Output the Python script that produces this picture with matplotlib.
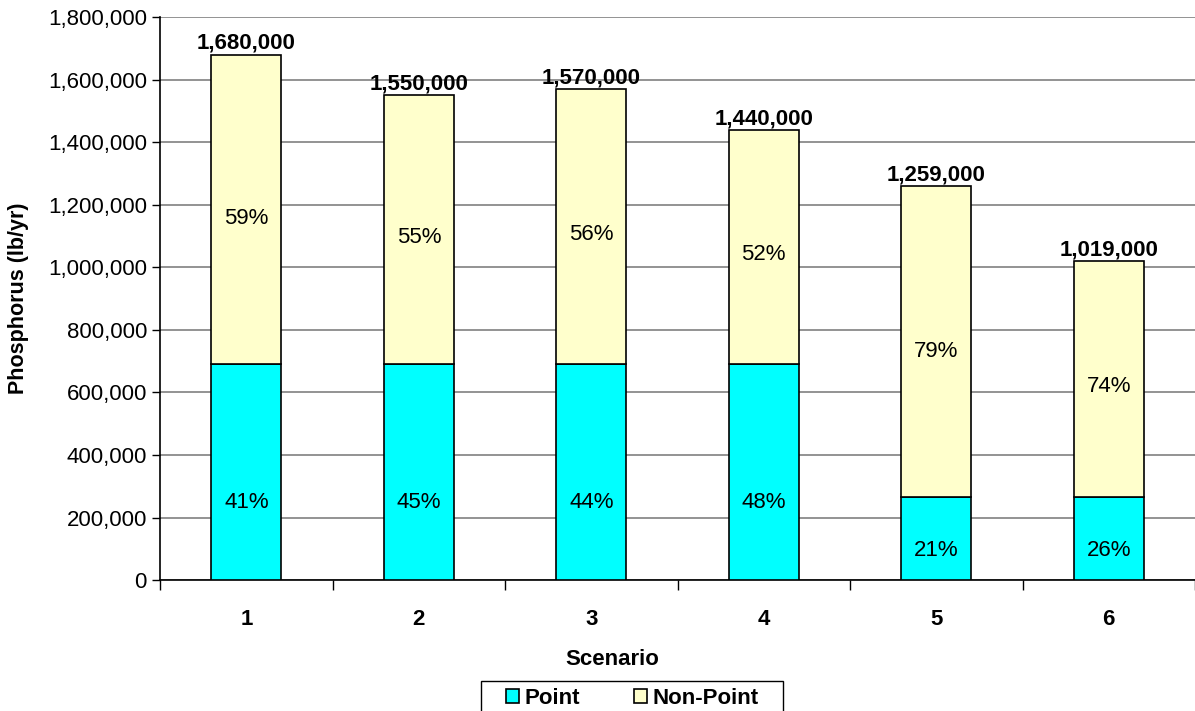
import matplotlib.pyplot as plt
from matplotlib.patches import Rectangle
import numpy as np

plt.rcParams['font.family'] = ['Liberation Sans', 'DejaVu Sans']

scenarios = ['1', '2', '3', '4', '5', '6']
totals = [1680000, 1550000, 1570000, 1440000, 1259000, 1019000]
point = [690000, 690000, 690000, 690000, 265000, 265000]
point_pct = [41, 45, 44, 48, 21, 26]
nonpoint_pct = [59, 55, 56, 52, 79, 74]

nonpoint = [t - p for t, p in zip(totals, point)]
x = np.arange(len(scenarios))

fig = plt.figure(figsize=(11.95, 7.11), dpi=100)
ax = fig.add_axes([0.134, 0.184, 0.866, 0.792])

w = 0.405
ax.bar(x, point, w, color='#00FFFF', edgecolor='black', linewidth=1.2,
       label='Point', zorder=3)
ax.bar(x, nonpoint, w, bottom=point, color='#FFFFCC', edgecolor='black',
       linewidth=1.2, label='Non-Point', zorder=3)

for i in x:
    ax.text(i, point[i] * 0.36, f'{point_pct[i]}%', ha='center', va='center',
            fontsize=16, zorder=4)
    ax.text(i, point[i] + nonpoint[i] * 0.47, f'{nonpoint_pct[i]}%',
            ha='center', va='center', fontsize=16, zorder=4)
    ax.text(i, totals[i] + 2000, f'{totals[i]:,}', ha='center', va='bottom',
            fontsize=16, fontweight='bold', zorder=4)

ax.set_xlim(-0.5, len(scenarios) - 0.5)
ax.set_ylim(0, 1800000)
ax.set_yticks(np.arange(0, 1800001, 200000))
ax.yaxis.set_major_formatter(plt.FuncFormatter(lambda v, _: f'{int(v):,}'))
ax.tick_params(axis='y', labelsize=16, length=6, width=1, direction='out')

# category separators as ticks, labels centred on the bars
ax.set_xticks(np.arange(-0.5, len(scenarios)), minor=False)
ax.set_xticklabels([])
ax.set_xticks(x, minor=True)
ax.set_xticklabels(scenarios, minor=True, fontsize=16, fontweight='bold')
ax.tick_params(axis='x', which='major', length=7, width=1, direction='out')
ax.tick_params(axis='x', which='minor', length=0, pad=21)

ax.grid(axis='y', color='#808080', linewidth=1.2, zorder=0)
ax.spines['top'].set_visible(False)
ax.spines['right'].set_visible(False)
ax.spines['left'].set_linewidth(1.2)
ax.spines['bottom'].set_linewidth(1.2)

ax.set_xlabel('Scenario', fontsize=16, fontweight='bold')
ax.xaxis.set_label_coords(0.4365, -0.123)
ax.set_ylabel('Phosphorus (lb/yr)', fontsize=15.5, fontweight='bold')
ax.yaxis.set_label_coords(-0.127, 0.5)

# legend box drawn separately so it can be wider than its entries
box_top = 1 - 681 / 711
fig.patches.append(Rectangle((0.4025, -0.02), 0.2527, box_top + 0.02,
                             transform=fig.transFigure, facecolor='white',
                             edgecolor='black', linewidth=1, zorder=1))
fig.legend(loc='upper center', bbox_to_anchor=(0.529, box_top + 0.015),
           ncol=2, frameon=False, prop={'size': 16, 'weight': 'bold'},
           handlelength=0.6, handleheight=0.6, handletextpad=0.25,
           columnspacing=2.4, borderpad=0.3)

fig.savefig('out.png', dpi=100)
